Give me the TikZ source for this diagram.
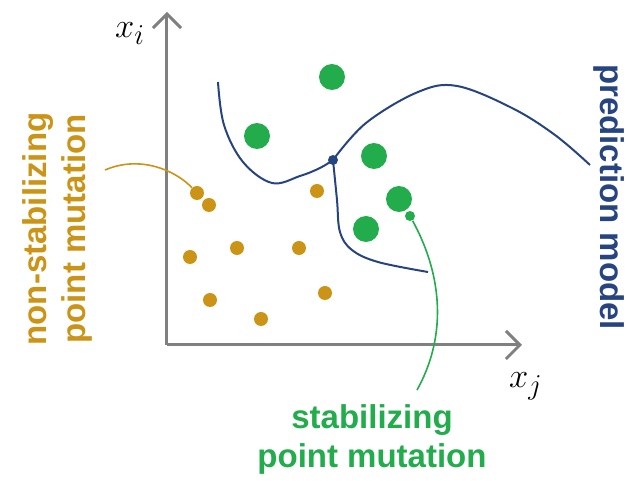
\documentclass[tikz,border=0pt]{standalone}
\usepackage{fontspec}
\setsansfont{Liberation Sans}
\usepackage{tikz}
\usetikzlibrary{positioning,arrows.meta}
\definecolor{mutorange}{RGB}{203,148,22}
\definecolor{mutgreen}{RGB}{34,172,76}
\definecolor{modelblue}{RGB}{38,68,128}
\definecolor{axisgray}{RGB}{128,128,128}

\begin{document}
\begin{tikzpicture}[x=0.5pt,y=-0.5pt,>={Straight Barb[length=7pt,width=14pt]},
  axis/.style={draw=axisgray,line width=1.5pt},
  odot/.style={circle,fill=mutorange,inner sep=0pt,minimum size=7pt},
  gdot/.style={circle,fill=mutgreen,inner sep=0pt,minimum size=13pt},
  label/.style={font=\sffamily\bfseries\fontsize{16.5}{19.5}\selectfont,align=center},
  model/.style={draw=modelblue,line width=1pt}]
\useasboundingbox (0,0) rectangle (629,481);
% axes
\coordinate (origin) at (167,345);
\coordinate (ytip) at (167,12);
\coordinate (xtip) at (522,345);
\draw[axis,->] (origin) -- (ytip);
\draw[axis,->] (origin) -- (xtip);
\node (xi) at (130,34) {\fontsize{19}{22}\selectfont$x_i$};
\node (xj) at (526,386) {\fontsize{19}{22}\selectfont$x_j$};
% non-stabilizing mutations
\node[odot] (o1) at (197,193) {};
\node[odot] (o2) at (209,205) {};
\node[odot] (o3) at (190,257) {};
\node[odot] (o4) at (237,248) {};
\node[odot] (o5) at (299,248) {};
\node[odot] (o6) at (210,300) {};
\node[odot] (o7) at (261,319) {};
\node[odot] (o8) at (317,191) {};
\node[odot] (o9) at (325,293) {};
% stabilizing mutations
\node[gdot] (g1) at (332,77) {};
\node[gdot] (g2) at (257,136) {};
\node[gdot] (g3) at (374,156) {};
\node[gdot] (g4) at (399,199) {};
\node[gdot] (g5) at (366,229) {};
\node[circle,fill=mutgreen,inner sep=0pt,minimum size=5pt] (g6) at (410,216) {};
% prediction model
\node[circle,fill=modelblue,inner sep=0pt,minimum size=5pt] (junction) at (333,160) {};
\draw[model] plot[smooth,tension=0.6] coordinates {(218,82) (224,125) (243,162) (272,183) (300,176) (320,168) (333,160)};
\draw[model] plot[smooth,tension=0.6] coordinates {(333,160) (366,123) (418,92) (457,86) (512,108) (555,135) (590,165)};
\draw[model] plot[smooth,tension=0.6] coordinates {(333,160) (337,200) (340,232) (352,250) (378,262) (428,272)};
% labels
\node[label,text=mutorange,rotate=90] (nonstab) at (57,229) {non-stabilizing\\point mutation};
\node[label,text=mutgreen] (stab) at (372,439) {stabilizing\\point mutation};
\node[label,text=modelblue,rotate=-90] (pred) at (609,197) {prediction model};
\coordinate (nsend) at (105,170);
\coordinate (send) at (417,390);
\draw[mutorange,line width=0.8pt] (nsend) .. controls (140,155) and (175,170) .. (o1);
\draw[mutgreen,line width=0.8pt] (g6) .. controls (445,280) and (445,340) .. (send);
\end{tikzpicture}
\end{document}
